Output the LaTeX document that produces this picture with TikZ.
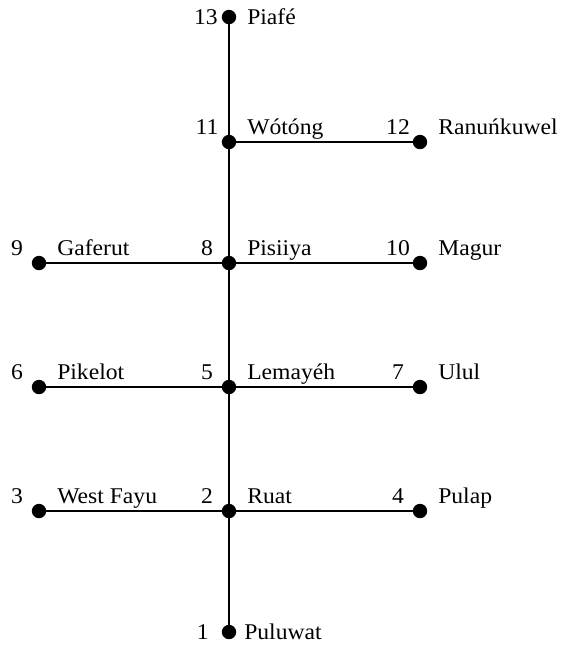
\documentclass[tikz,border=0pt]{standalone}
\usepackage{fontspec}
\setmainfont{Liberation Serif}[FakeStretch=1.05]
\tikzstyle{island}=[circle,fill=black,inner sep=0pt,minimum size=0.36cm]
\tikzstyle{route}=[line width=1.8pt]
\tikzstyle{islenum}=[inner sep=0pt,font=\fontsize{16}{19}\selectfont]
\tikzstyle{islename}=[inner sep=0pt,font=\fontsize{16}{19}\selectfont]

\begin{document}
\begin{tikzpicture}[x=0.025cm,y=-0.025cm]
  \useasboundingbox (0,0) rectangle (562,647);

  % Islands on the main line.
  \node[island] (i1)  at (229,632) {};
  \node[island] (i2)  at (229,511) {};
  \node[island] (i5)  at (229,387) {};
  \node[island] (i8)  at (229,263) {};
  \node[island] (i11) at (229,142) {};
  \node[island] (i13) at (229,17)  {};

  % Islands to the west.
  \node[island] (i3) at (39,511) {};
  \node[island] (i6) at (39,387) {};
  \node[island] (i9) at (39,263) {};

  % Islands to the east.
  \node[island] (i4)  at (420,511) {};
  \node[island] (i7)  at (420,387) {};
  \node[island] (i10) at (420,263) {};
  \node[island] (i12) at (420,142) {};

  % Routes.
  \draw[route] (i1) -- (i13);
  \draw[route] (i3) -- (i4);
  \draw[route] (i6) -- (i7);
  \draw[route] (i9) -- (i10);
  \draw[route] (i11) -- (i12);

  % Numbers and names above the side routes.
  \foreach \n/\place in {2/Ruat,3/West Fayu,4/Pulap,5/Lemayéh,6/Pikelot,
      7/Ulul,8/Pisiiya,9/Gaferut,10/Magur,11/Wótóng,12/Ranuńkuwel}{
    \node[islenum,anchor=base] (n\n) at ([shift={(-22,-8)}]i\n) {\n};
    \node[islename,anchor=base west] (t\n) at ([shift={(18,-8)}]i\n) {\place};
  }

  % Ends of the main line.
  \node[islenum,anchor=base east] (n13) at ([shift={(-11,7)}]i13) {13};
  \node[islename,anchor=base west] (t13) at ([shift={(18,7)}]i13) {Piafé};
  \node[islenum,anchor=base east] (n1) at ([shift={(-20,7)}]i1) {1};
  \node[islename,anchor=base west] (t1) at ([shift={(15,7)}]i1) {Puluwat};
\end{tikzpicture}
\end{document}
